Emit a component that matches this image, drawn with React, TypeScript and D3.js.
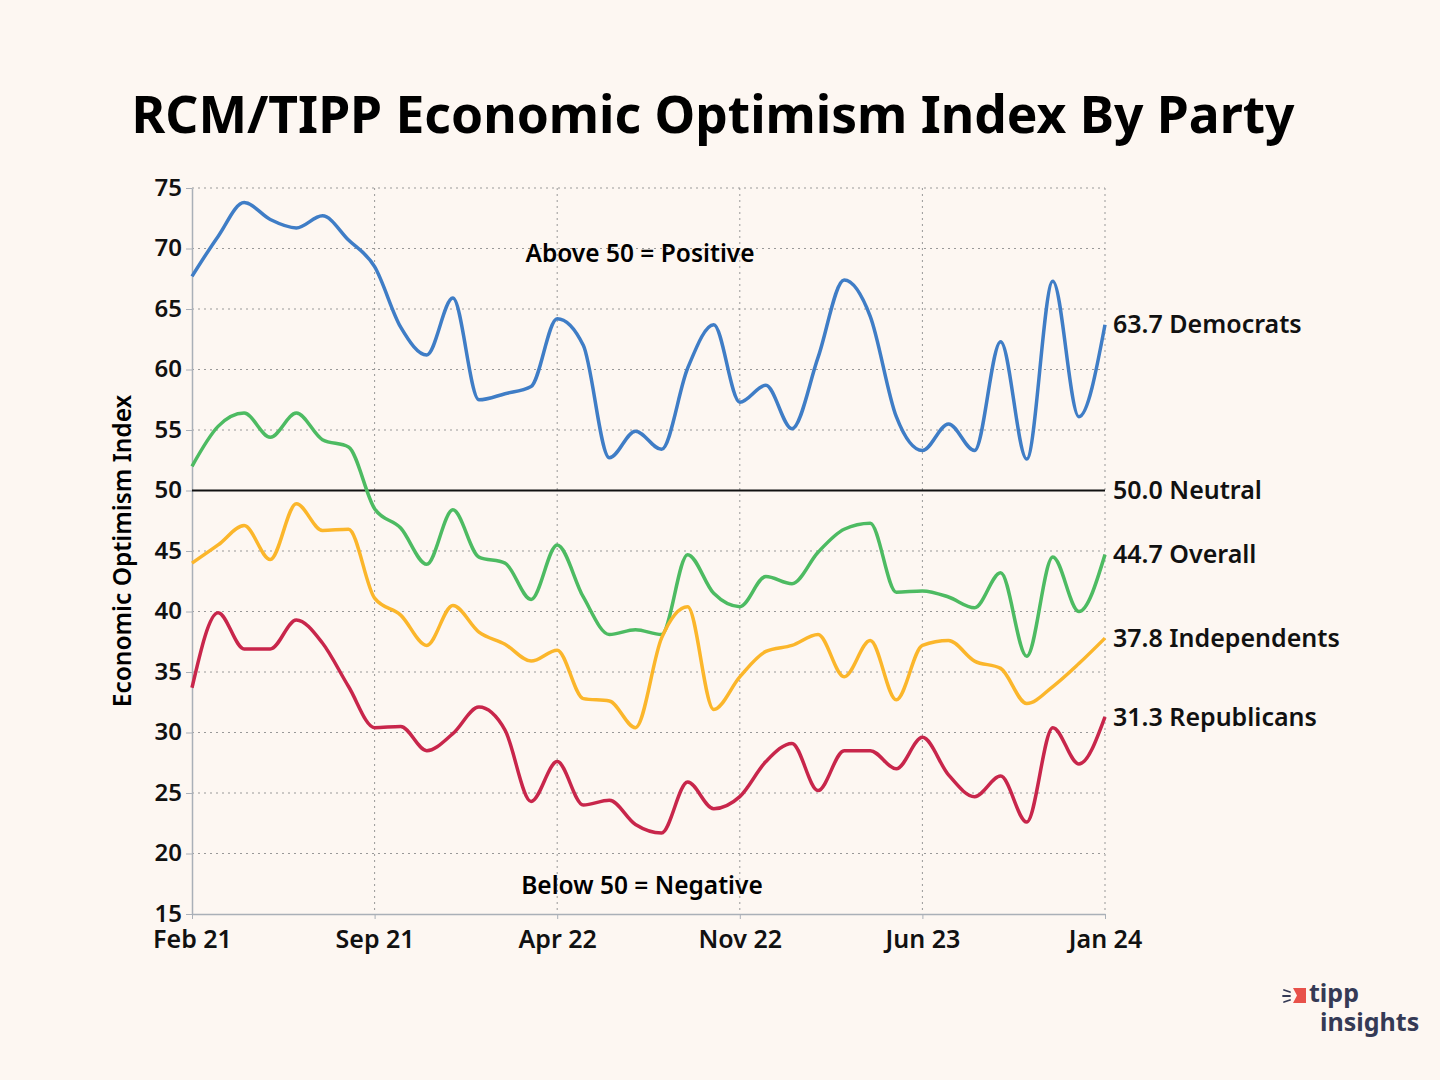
import React, { useRef, useEffect } from 'react';
import * as d3 from 'd3';

// monthly readings Feb 21 .. Jan 24
const months = d3.range(36);
const tickIdx = [0, 7, 14, 21, 28, 35];
const tickLabels = ['Feb 21', 'Sep 21', 'Apr 22', 'Nov 22', 'Jun 23', 'Jan 24'];
const yTicks = [15, 20, 25, 30, 35, 40, 45, 50, 55, 60, 65, 70, 75];

const democrats = [
  67.7, 71.0, 73.8, 72.4, 71.7, 72.7, 70.7, 68.5, 63.5, 61.2, 65.9, 57.5,
  58.0, 58.6, 64.2, 62.0, 52.7, 54.9, 53.4, 60.1, 63.7, 57.3, 58.7, 55.1,
  61.0, 67.4, 64.4, 56.1, 53.3, 55.5, 53.3, 62.3, 52.6, 67.3, 56.1, 63.7,
];
const overall = [
  52.0, 55.3, 56.4, 54.4, 56.4, 54.2, 53.6, 48.5, 46.9, 43.9, 48.4, 44.5,
  44.0, 41.0, 45.5, 41.2, 38.1, 38.5, 38.1, 44.7, 41.5, 40.4, 42.9, 42.3,
  44.9, 46.8, 47.3, 41.6, 41.7, 41.2, 40.3, 43.2, 36.3, 44.5, 40.0, 44.7,
];
const independents = [
  44.0, 45.5, 47.1, 44.3, 48.9, 46.7, 46.8, 41.1, 39.7, 37.2, 40.5, 38.3,
  37.3, 35.9, 36.8, 32.8, 32.6, 30.4, 37.8, 40.4, 31.9, 34.6, 36.7, 37.2,
  38.1, 34.6, 37.6, 32.7, 37.2, 37.6, 35.9, 35.3, 32.4, 33.8, 35.7, 37.8,
];
const republicans = [
  33.7, 39.9, 36.9, 36.9, 39.3, 37.4, 33.8, 30.4, 30.5, 28.5, 29.9, 32.1,
  30.2, 24.3, 27.6, 24.0, 24.4, 22.4, 21.7, 25.9, 23.7, 24.7, 27.6, 29.1,
  25.2, 28.5, 28.5, 27.0, 29.6, 26.5, 24.7, 26.4, 22.6, 30.4, 27.4, 31.3,
];

const series = [
  { name: 'Democrats', values: democrats, color: '#3f7dc6', label: '63.7 Democrats' },
  { name: 'Overall', values: overall, color: '#4dbb62', label: '44.7 Overall' },
  { name: 'Independents', values: independents, color: '#fbb62b', label: '37.8 Independents' },
  { name: 'Republicans', values: republicans, color: '#c8264b', label: '31.3 Republicans' },
];

const FONT = "'Noto Sans', 'Open Sans', sans-serif";

const App: React.FC = () => {
  const svgRef = useRef<SVGSVGElement>(null);

  useEffect(() => {
    document.body.style.margin = '0';
    if (!svgRef.current) return;
    const svg = d3.select(svgRef.current);
    svg.selectAll('*').remove();

    const width = 1440;
    const height = 1080;
    const margin = { top: 188, right: 335, bottom: 166, left: 192 };

    const x = d3.scaleLinear().domain([0, 35]).range([margin.left, width - margin.right]);
    const y = d3.scaleLinear().domain([15, 75]).range([height - margin.bottom, margin.top]);

    svg.append('rect').attr('width', width).attr('height', height).attr('fill', '#fdf7f2');

    svg.append('text')
      .attr('x', 713).attr('y', 133)
      .attr('text-anchor', 'middle')
      .attr('font-family', FONT).attr('font-weight', 700).attr('font-size', 52)
      .attr('textLength', 1163).attr('lengthAdjust', 'spacingAndGlyphs')
      .text('RCM/TIPP Economic Optimism Index By Party');

    // grid
    const grid = svg.append('g').attr('stroke', '#999').attr('stroke-dasharray', '2,4').attr('stroke-width', 1);
    grid.selectAll('line.h').data(yTicks.filter(v => v !== 15 && v !== 50)).join('line')
      .attr('x1', x(0)).attr('x2', x(35)).attr('y1', d => y(d)).attr('y2', d => y(d));
    grid.selectAll('line.v').data(tickIdx.slice(1)).join('line')
      .attr('x1', d => x(d)).attr('x2', d => x(d)).attr('y1', y(75)).attr('y2', y(15));

    // axes
    const yAxis = svg.append('g')
      .attr('transform', `translate(${x(0)},0)`)
      .call(d3.axisLeft(y).tickValues(yTicks).tickSize(6).tickPadding(4).tickSizeOuter(0));
    yAxis.select('.domain').attr('stroke', '#aab0b8').attr('stroke-width', 1.5);
    yAxis.selectAll('.tick line').attr('stroke', '#aab0b8');
    yAxis.selectAll('.tick text')
      .attr('fill', '#111').attr('font-family', FONT).attr('font-weight', 600).attr('font-size', 24)
      .attr('dy', '0.3em');

    const xAxis = svg.append('g')
      .attr('transform', `translate(0,${y(15)})`)
      .call(d3.axisBottom(x).tickValues(tickIdx).tickFormat((d, i) => tickLabels[i]).tickSize(5).tickPadding(13).tickSizeOuter(0));
    xAxis.select('.domain').attr('stroke', '#aab0b8').attr('stroke-width', 1.5);
    xAxis.selectAll('.tick line').attr('stroke', '#aab0b8');
    xAxis.selectAll('.tick text')
      .attr('fill', '#111').attr('font-family', FONT).attr('font-weight', 600).attr('font-size', 25)
      .attr('dy', '0.62em');

    // neutral line
    svg.append('line')
      .attr('x1', x(0)).attr('x2', x(35)).attr('y1', y(50)).attr('y2', y(50))
      .attr('stroke', '#111').attr('stroke-width', 2);

    svg.append('text')
      .attr('transform', `translate(131,${(y(15) + y(75)) / 2}) rotate(-90)`)
      .attr('text-anchor', 'middle')
      .attr('font-family', FONT).attr('font-weight', 600).attr('font-size', 24.5)
      .text('Economic Optimism Index');

    const line = d3.line<number>()
      .x((_, i) => x(months[i]))
      .y(d => y(d))
      .curve(d3.curveMonotoneX);

    svg.append('g').selectAll('path').data(series).join('path')
      .attr('d', d => line(d.values))
      .attr('fill', 'none')
      .attr('stroke', d => d.color)
      .attr('stroke-width', 3.5)
      .attr('stroke-linejoin', 'round');

    const endLabels = [
      ...series.map(s => ({ label: s.label, v: s.values[35] })),
      { label: '50.0 Neutral', v: 50 },
    ];
    svg.append('g').selectAll('text').data(endLabels).join('text')
      .attr('x', x(35) + 8)
      .attr('y', d => y(d.v))
      .attr('dy', '0.35em')
      .attr('font-family', FONT).attr('font-weight', 600).attr('font-size', 25)
      .attr('fill', '#111')
      .text(d => d.label);

    svg.append('text')
      .attr('x', 640).attr('y', y(70) + 13)
      .attr('text-anchor', 'middle')
      .attr('font-family', FONT).attr('font-weight', 600).attr('font-size', 24.5)
      .text('Above 50 = Positive');
    svg.append('text')
      .attr('x', 642).attr('y', y(17.5) + 10)
      .attr('text-anchor', 'middle')
      .attr('font-family', FONT).attr('font-weight', 600).attr('font-size', 24.5)
      .text('Below 50 = Negative');

    // logo
    const logo = svg.append('g');
    logo.append('path')
      .attr('d', 'M1293,988 L1306,988 L1306,1003 L1293,1003 L1297,995.5 Z')
      .attr('fill', '#e8514a');
    logo.append('g').attr('stroke', '#353a55').attr('stroke-width', 1.8).attr('stroke-linecap', 'round')
      .selectAll('line').data([[1284, 990, 1290, 992], [1283, 996, 1290, 996], [1284, 1002, 1290, 1000]]).join('line')
      .attr('x1', d => d[0]).attr('y1', d => d[1]).attr('x2', d => d[2]).attr('y2', d => d[3]);
    logo.append('text')
      .attr('x', 1309).attr('y', 1002)
      .attr('font-family', FONT).attr('font-weight', 700).attr('font-size', 25)
      .attr('fill', '#353a55')
      .text('tipp');
    logo.append('text')
      .attr('x', 1320).attr('y', 1031)
      .attr('font-family', FONT).attr('font-weight', 700).attr('font-size', 25)
      .attr('fill', '#353a55')
      .text('insights');
  }, []);

  return (
    <div style={{ position: 'absolute', left: 0, top: 0 }}>
      <svg ref={svgRef} width={1440} height={1080} style={{ display: 'block' }} />
    </div>
  );
};

export default App;
